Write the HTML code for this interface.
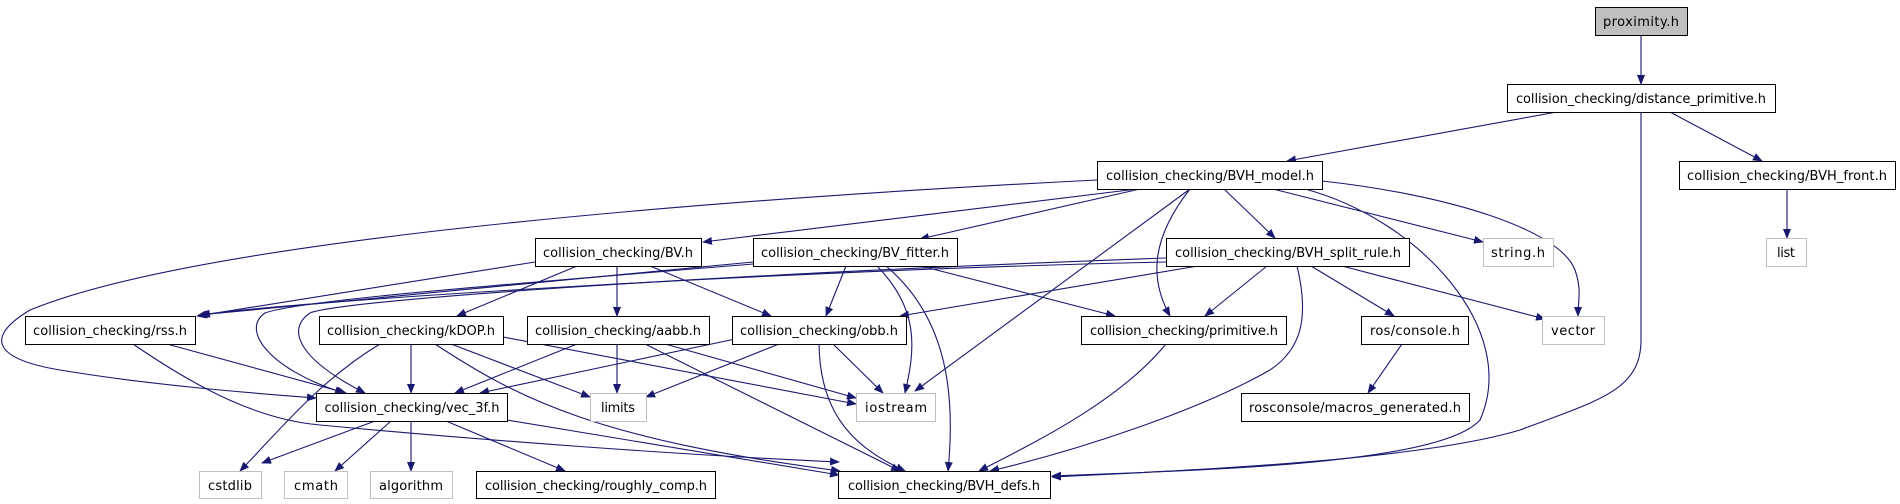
<!DOCTYPE html>
<html><head><meta charset="utf-8"><style>
html,body{margin:0;padding:0;background:#fff;}
svg{display:block;}
text{font-family:"DejaVu Sans","Liberation Sans",sans-serif;font-size:13px;fill:#000;}
</style></head><body>
<svg width="1900" height="504" viewBox="0 0 1900 504" xmlns="http://www.w3.org/2000/svg">
<defs>
<marker id="a" markerWidth="10" markerHeight="8" refX="9" refY="4" orient="auto" markerUnits="userSpaceOnUse">
<path d="M0,0 L10,4 L0,8 z" fill="#191970"/></marker>
</defs>
<g fill="none" stroke="#191970" stroke-width="1.1" marker-end="url(#a)">
<path d="M1641,35 L1641,84"/>
<path d="M1557,112 L1287,161"/>
<path d="M1670,112 L1762,161"/>
<path d="M1641,112 L1641,340 C1641,390 1600,400 1520,430 C1420,460 1200,470 1052,477"/>
<path d="M1787,189 L1787,238"/>
<path d="M1273,189 L1483,242"/>
<path d="M1322,181 C1450,195 1560,230 1575,270 C1582,290 1578,300 1578,316"/>
<path d="M1224,189 L1275,238"/>
<path d="M1305,189 C1420,220 1520,330 1480,420 C1440,465 1200,470 1052,476"/>
<path d="M1190,189 L915,391"/>
<path d="M1190,189 C1150,240 1150,280 1170,316"/>
<path d="M1140,189 L920,239"/>
<path d="M1137,189 L703,242"/>
<path d="M1097,180 C700,200 200,240 30,310 C-20,340 0,360 60,370 C150,385 250,393 316,398"/>
<path d="M535,262 L197,316"/>
<path d="M577,266 L457,316"/>
<path d="M617,266 L617,316"/>
<path d="M650,266 L771,316"/>
<path d="M753,262 L199,315"/>
<path d="M753,264 C500,285 300,300 265,313 C240,330 270,370 344,393"/>
<path d="M1166,258 C700,275 340,300 310,313 C285,330 300,360 365,393"/>
<path d="M1166,262 C800,270 300,300 201,315"/>
<path d="M380,344 C320,380 280,430 240,471"/>
<path d="M411,344 L411,393"/>
<path d="M451,344 L590,397"/>
<path d="M435,344 C520,400 600,440 840,471"/>
<path d="M503,337 L856,404"/>
<path d="M167,344 L346,393"/>
<path d="M133,344 C200,390 260,420 320,425 C480,440 680,455 839,462"/>
<path d="M577,344 L455,393"/>
<path d="M617,344 L617,393"/>
<path d="M665,344 L856,398"/>
<path d="M645,344 L900,471"/>
<path d="M740,338 L480,393"/>
<path d="M779,344 L646,397"/>
<path d="M833,344 L883,393"/>
<path d="M819,344 C820,420 860,450 905,471"/>
<path d="M846,266 L826,316"/>
<path d="M877,266 C920,310 915,350 905,393"/>
<path d="M886,266 C950,320 955,400 948,471"/>
<path d="M921,266 L1115,316"/>
<path d="M1198,266 L900,316"/>
<path d="M1267,266 L1205,316"/>
<path d="M1311,266 L1394,316"/>
<path d="M1342,266 L1545,319"/>
<path d="M1297,266 C1310,320 1300,350 1270,370 C1200,410 1080,450 990,471"/>
<path d="M1166,344 C1120,400 1040,440 979,471"/>
<path d="M1402,344 L1368,393"/>
<path d="M375,421 L262,463"/>
<path d="M391,421 L335,471"/>
<path d="M411,421 L411,471"/>
<path d="M446,421 L565,471"/>
<path d="M507,420 L839,475"/>
</g>
<g stroke-width="1">
<rect x="1595.5" y="7.5" width="92" height="28" fill="#bfbfbf" stroke="#000"/>
<rect x="1507.5" y="84.5" width="268" height="28" fill="#fff" stroke="#000"/>
<rect x="1097.5" y="161.5" width="225" height="28" fill="#fff" stroke="#000"/>
<rect x="1679.5" y="161.5" width="216" height="28" fill="#fff" stroke="#000"/>
<rect x="535.5" y="238.5" width="166" height="28" fill="#fff" stroke="#000"/>
<rect x="753.5" y="238.5" width="204" height="28" fill="#fff" stroke="#000"/>
<rect x="1166.5" y="238.5" width="243" height="28" fill="#fff" stroke="#000"/>
<rect x="1483.5" y="238.5" width="70" height="28" fill="#fff" stroke="#bfbfbf"/>
<rect x="1766.5" y="238.5" width="40" height="28" fill="#fff" stroke="#bfbfbf"/>
<rect x="25.5" y="316.5" width="170" height="28" fill="#fff" stroke="#000"/>
<rect x="319.5" y="316.5" width="184" height="28" fill="#fff" stroke="#000"/>
<rect x="527.5" y="316.5" width="182" height="28" fill="#fff" stroke="#000"/>
<rect x="732.5" y="316.5" width="174" height="28" fill="#fff" stroke="#000"/>
<rect x="1081.5" y="316.5" width="205" height="28" fill="#fff" stroke="#000"/>
<rect x="1361.5" y="316.5" width="107" height="28" fill="#fff" stroke="#000"/>
<rect x="1542.5" y="316.5" width="62" height="28" fill="#fff" stroke="#bfbfbf"/>
<rect x="316.5" y="393.5" width="191" height="28" fill="#fff" stroke="#000"/>
<rect x="590.5" y="393.5" width="56" height="28" fill="#fff" stroke="#bfbfbf"/>
<rect x="856.5" y="393.5" width="79" height="28" fill="#fff" stroke="#bfbfbf"/>
<rect x="1241.5" y="393.5" width="228" height="28" fill="#fff" stroke="#000"/>
<rect x="199.5" y="471.5" width="62" height="27" fill="#fff" stroke="#bfbfbf"/>
<rect x="284.5" y="471.5" width="63" height="27" fill="#fff" stroke="#bfbfbf"/>
<rect x="370.5" y="471.5" width="82" height="27" fill="#fff" stroke="#bfbfbf"/>
<rect x="476.5" y="471.5" width="239" height="27" fill="#fff" stroke="#000"/>
<rect x="838.5" y="471.5" width="212" height="27" fill="#fff" stroke="#000"/>
</g>
<g text-anchor="middle" lengthAdjust="spacingAndGlyphs">
<text x="1641" y="26" textLength="76">proximity.h</text>
<text x="1641" y="103" textLength="250">collision_checking/distance_primitive.h</text>
<text x="1210" y="180" textLength="208">collision_checking/BVH_model.h</text>
<text x="1787" y="180" textLength="200">collision_checking/BVH_front.h</text>
<text x="618" y="257" textLength="150">collision_checking/BV.h</text>
<text x="855" y="257" textLength="188">collision_checking/BV_fitter.h</text>
<text x="1288" y="257" textLength="226">collision_checking/BVH_split_rule.h</text>
<text x="1518" y="257" textLength="54">string.h</text>
<text x="1786" y="257" textLength="18">list</text>
<text x="110" y="335" textLength="154">collision_checking/rss.h</text>
<text x="411" y="335" textLength="168">collision_checking/kDOP.h</text>
<text x="618" y="335" textLength="166">collision_checking/aabb.h</text>
<text x="819" y="335" textLength="158">collision_checking/obb.h</text>
<text x="1184" y="335" textLength="188">collision_checking/primitive.h</text>
<text x="1415" y="335" textLength="90">ros/console.h</text>
<text x="1573" y="335" textLength="44">vector</text>
<text x="412" y="412" textLength="175">collision_checking/vec_3f.h</text>
<text x="618" y="412" textLength="34">limits</text>
<text x="896" y="412" textLength="62">iostream</text>
<text x="1355" y="412" textLength="212">rosconsole/macros_generated.h</text>
<text x="230" y="490" textLength="44">cstdlib</text>
<text x="316" y="490" textLength="44">cmath</text>
<text x="411" y="490" textLength="64">algorithm</text>
<text x="596" y="490" textLength="222">collision_checking/roughly_comp.h</text>
<text x="944" y="490" textLength="192">collision_checking/BVH_defs.h</text>
</g>
</svg>
</body></html>
